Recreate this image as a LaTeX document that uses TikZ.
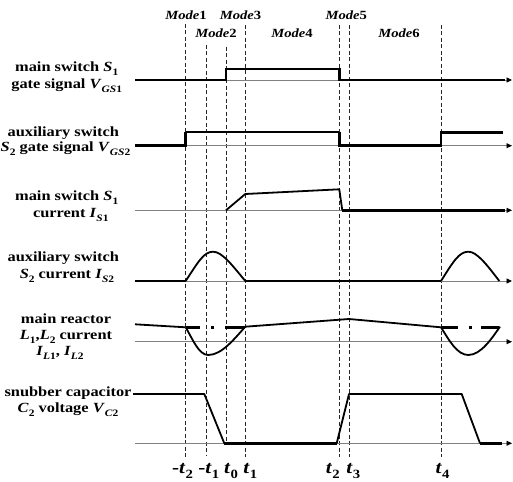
\documentclass[tikz,border=0pt]{standalone}
\usepackage{fontspec}
\setmainfont[FakeStretch=1.17]{Liberation Serif}
\usetikzlibrary{arrows.meta}
\newcommand\sbs[1]{\raisebox{-0.3em}{\scalebox{0.7}{#1}}}
\newcommand\lbfont{\fontsize{14}{16}\selectfont\bfseries}
\begin{document}
\begin{tikzpicture}[x=1pt,y=-1pt,
  lab/.style={inner sep=0pt,anchor=base,font=\lbfont},
  modelab/.style={inner sep=0pt,anchor=base,font=\fontsize{12.5}{14}\selectfont\bfseries},
  tlab/.style={inner sep=0pt,anchor=base,font=\fontsize{18}{20}\selectfont\bfseries},
  axis/.style={draw=black!50,line width=0.9pt,-{Triangle[length=5.5pt,width=5pt,color=black]}},
  guide/.style={draw=black!85,line width=0.7pt,dash pattern=on 4pt off 2.5pt},
  sigA/.style={line width=2.8pt,line join=miter},
  sigB/.style={line width=1.8pt,line join=round},
  dashdot/.style={line width=2.8pt}]
\useasboundingbox (0,0) rectangle (513,481);

% guide lines
\draw[guide] (185.7,24) -- (185.7,458);
\draw[guide] (206,45) -- (206,455);
\draw[guide] (226,46.7) -- (226,443.3);
\draw[guide] (245.3,25) -- (245.3,457);
\draw[guide] (339.3,25) -- (339.3,457);
\draw[guide] (349,25) -- (349,457);
\draw[guide] (441,25) -- (441,457);

% axes
\coordinate (a1s) at (135,80);    \coordinate (a1e) at (512,80);
\coordinate (a2s) at (135,145.7); \coordinate (a2e) at (512,145.7);
\coordinate (a3s) at (135,210.3); \coordinate (a3e) at (512,210.3);
\coordinate (a4s) at (135,281);   \coordinate (a4e) at (512,281);
\coordinate (a5s) at (135,341.7); \coordinate (a5e) at (512,341.7);
\coordinate (a6s) at (135,443.3); \coordinate (a6e) at (512,443.3);
\foreach \i in {1,...,6} {\draw[axis] (a\i s) -- (a\i e);}

% row 1: VGS1
\draw[sigA] (135,80) -- (226,80) -- (226,69) -- (339.3,69) -- (339.3,80) -- (505,80);
% row 2: VGS2
\draw[sigA] (135,145.7) -- (185.7,145.7) -- (185.7,132.3);
\draw[sigB] (185.7,132.3) -- (339.3,132.3);
\draw[sigA] (339.3,132.3) -- (339.3,145.7) -- (441,145.7) -- (441,132.3) -- (503,132.3);
% row 3: IS1
\draw[sigB] (226,210.3) -- (245.3,194) -- (339.3,189.3) -- (342.3,210.3);
\draw[sigA] (342.3,210.3) -- (505,210.3);
% row 4: IS2
\draw[sigA] (135,281) -- (185.7,281);
\draw[sigB] (185.7,281) .. controls (198,262) and (204,251.7) .. (213,251.7) .. controls (222,251.7) and (232,265) .. (245.3,281);
\draw[sigA] (245.3,281) -- (441,281);
\draw[sigB] (441,281) .. controls (453,262) and (459,251.7) .. (468.3,251.7) .. controls (477,251.7) and (487,265) .. (499.3,281);
% row 5: IL
\draw[sigB] (135,324.3) -- (185.7,327.3);
\draw[sigB] (185.7,327.3) .. controls (193,340) and (199,355) .. (208.3,355) .. controls (222,355) and (235,338) .. (245.3,326.7);
\draw[sigB] (245.3,326.7) -- (349,319) -- (441,327.3);
\draw[sigB] (441,327.3) .. controls (449,340) and (457,355) .. (468.3,355) .. controls (481,355) and (492,338) .. (500,326.7);
\draw[dashdot] (185.7,327.3) -- (200,327.3);
\draw[dashdot] (210.5,327.3) -- (213.5,327.3);
\draw[dashdot] (225,327.3) -- (245.3,327.3);
\draw[dashdot] (441,327.3) -- (458,327.3);
\draw[dashdot] (468.5,327.3) -- (471.5,327.3);
\draw[dashdot] (481,327.3) -- (499,327.3);
% row 6: VC2
\draw[sigB] (133,394) -- (204.3,394) -- (224.3,443.3);
\draw[sigA] (224.3,443.3) -- (336.7,443.3);
\draw[sigB] (336.7,443.3) -- (349,394) -- (461.7,394) -- (480,443.3);
\draw[sigA] (480,443.3) -- (502,443.3);

% left labels
\node[lab] (l1a) at (66.7,71.7) {main switch \textit{S}\sbs{1}};
\node[lab] (l1b) at (66.7,88.3) {gate signal \textit{V}\sbs{\textit{GS}1}};
\node[lab] (l2a) at (63.3,136) {auxiliary switch};
\node[lab] (l2b) at (65.5,151.7) {\textit{S}\sbs{2} gate signal \textit{V}\sbs{\textit{GS}2}};
\node[lab] (l3a) at (66.7,200.5) {main switch \textit{S}\sbs{1}};
\node[lab] (l3b) at (70.8,217) {current \textit{I}\sbs{\textit{S}1}};
\node[lab] (l4a) at (63.3,261.7) {auxiliary switch};
\node[lab] (l4b) at (67,278.3) {\textit{S}\sbs{2} current \textit{I}\sbs{\textit{S}2}};
\node[lab] (l5a) at (66,323.3) {main reactor};
\node[lab] (l5b) at (66,339.3) {\textit{L}\sbs{1},\textit{L}\sbs{2} current};
\node[lab] (l5c) at (60,355.7) {\textit{I}\sbs{\textit{L}1}, \textit{I}\sbs{\textit{L}2}};
\node[lab] (l6a) at (68,396) {snubber capacitor};
\node[lab] (l6b) at (68,412.7) {\textit{C}\sbs{2} voltage \textit{V}\sbs{\textit{C}2}};

% mode labels
\node[modelab] (m1) at (186,19.5) {\textit{Mode}1};
\node[modelab] (m3) at (240.5,19.5) {\textit{Mode}3};
\node[modelab] (m5) at (346.3,19.5) {\textit{Mode}5};
\node[modelab] (m2) at (216,38) {\textit{Mode}2};
\node[modelab] (m4) at (292,38) {\textit{Mode}4};
\node[modelab] (m6) at (399,38) {\textit{Mode}6};

% time labels
\node[tlab] (tm2) at (182.5,473.3) {-\textit{t}\sbs{2}};
\node[tlab] (tm1) at (208.8,473.3) {-\textit{t}\sbs{1}};
\node[tlab] (t0) at (231,473.3) {\textit{t}\sbs{0}};
\node[tlab] (t1) at (250.3,473.3) {\textit{t}\sbs{1}};
\node[tlab] (t2) at (332.8,473.3) {\textit{t}\sbs{2}};
\node[tlab] (t3) at (353.3,473.3) {\textit{t}\sbs{3}};
\node[tlab] (t4) at (442.5,473.3) {\textit{t}\sbs{4}};
\end{tikzpicture}
\end{document}
